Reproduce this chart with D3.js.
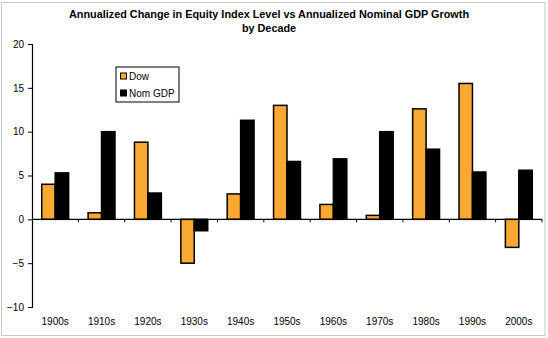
<!DOCTYPE html>
<html>
<head>
<meta charset="utf-8">
<script src="https://cdn.jsdelivr.net/npm/d3@7"></script>
<style>
  body { margin: 0; background: #fff; }
  svg { display: block; font-family: "Liberation Sans", Arial, sans-serif; }
</style>
</head>
<body>
<div id="root"></div>
<script>
const width = 548;
const height = 338;

// data
const decades = ['1900s', '1910s', '1920s', '1930s', '1940s', '1950s', '1960s', '1970s', '1980s', '1990s', '2000s'];
const dow = [4.0, 0.75, 8.8, -5.0, 2.9, 13.0, 1.7, 0.45, 12.6, 15.5, -3.2];
const nomGdp = [5.3, 10.0, 3.0, -1.3, 11.3, 6.6, 6.9, 10.0, 8.0, 5.4, 5.6];
const yTicks = [-10, -5, 0, 5, 10, 15, 20];
const seriesNames = ['Dow', 'Nom GDP'];
const seriesColors = ['#f9a832', '#000000'];

const margin = {top: 44, right: 6, bottom: 31, left: 32};

const svg = d3.select('#root')
    .append('svg')
    .attr('width', width)
    .attr('height', height);

// outer frame
svg.append('rect')
    .attr('x', 1.5).attr('y', 2.5)
    .attr('width', 543.5).attr('height', 333)
    .attr('fill', 'none')
    .attr('stroke', '#c8c8c8');

const x = d3.scaleBand()
    .domain(decades)
    .range([margin.left, width - margin.right]);

const y = d3.scaleLinear()
    .domain([-10, 20])
    .range([height - margin.bottom, margin.top]);

const barW = x.bandwidth() * 0.29;

// title
const title = svg.append('g')
    .attr('font-weight', 'bold')
    .attr('font-size', 10.85)
    .attr('text-anchor', 'middle');
title.append('text').attr('x', 269).attr('y', 18)
    .text('Annualized Change in Equity Index Level vs Annualized Nominal GDP Growth');
title.append('text').attr('x', 269).attr('y', 32)
    .text('by Decade');

// bars
const rows = decades.map((d, i) => ({decade: d, values: [dow[i], nomGdp[i]]}));

const groups = svg.selectAll('g.decade')
    .data(rows)
    .join('g')
    .attr('class', 'decade')
    .attr('transform', d => `translate(${x(d.decade) + x.bandwidth() / 2 - barW},0)`);

groups.selectAll('rect')
    .data(d => d.values)
    .join('rect')
    .attr('x', (d, i) => i * barW)
    .attr('y', d => y(Math.max(0, d)))
    .attr('width', barW)
    .attr('height', d => Math.abs(y(d) - y(0)))
    .attr('fill', (d, i) => seriesColors[i])
    .attr('stroke', '#000')
    .attr('stroke-width', 1.5);

// y axis
const yAxis = svg.append('g')
    .attr('transform', `translate(${margin.left},0)`)
    .call(d3.axisLeft(y).tickValues(yTicks).tickSize(4).tickPadding(4));
yAxis.select('.domain').attr('stroke', '#000').attr('stroke-width', 1.2);
yAxis.selectAll('text').attr('font-size', 10).attr('fill', '#000')
    .attr('font-family', '"Liberation Sans", Arial, sans-serif');

// x axis at zero
const xAxis = svg.append('g')
    .attr('transform', `translate(0,${y(0)})`);
xAxis.append('line')
    .attr('x1', margin.left).attr('x2', width - margin.right)
    .attr('stroke', '#000').attr('stroke-width', 1.2);
xAxis.selectAll('line.tick')
    .data(decades.slice(1).concat(['end']))
    .join('line')
    .attr('class', 'tick')
    .attr('x1', d => d === 'end' ? width - margin.right : x(d))
    .attr('x2', d => d === 'end' ? width - margin.right : x(d))
    .attr('y1', 0).attr('y2', 3)
    .attr('stroke', '#000');

// category labels at bottom
svg.append('g')
    .attr('font-size', 10)
    .attr('text-anchor', 'middle')
    .selectAll('text')
    .data(decades)
    .join('text')
    .attr('x', d => x(d) + x.bandwidth() / 2)
    .attr('y', 325)
    .text(d => d);

// legend
const legend = svg.append('g').attr('transform', 'translate(116,67)');
legend.append('rect')
    .attr('width', 63).attr('height', 35)
    .attr('fill', '#fff').attr('stroke', '#000').attr('stroke-width', 1);
const items = legend.selectAll('g.item')
    .data(seriesNames)
    .join('g')
    .attr('class', 'item')
    .attr('transform', (d, i) => `translate(4,${9 + i * 17})`);
items.append('rect')
    .attr('x', 0.5).attr('y', -3)
    .attr('width', 6).attr('height', 6)
    .attr('fill', (d, i) => seriesColors[i])
    .attr('stroke', '#000').attr('stroke-width', 1);
items.append('text')
    .attr('x', 9).attr('y', 4)
    .attr('font-size', 10)
    .text(d => d);
</script>
</body>
</html>
